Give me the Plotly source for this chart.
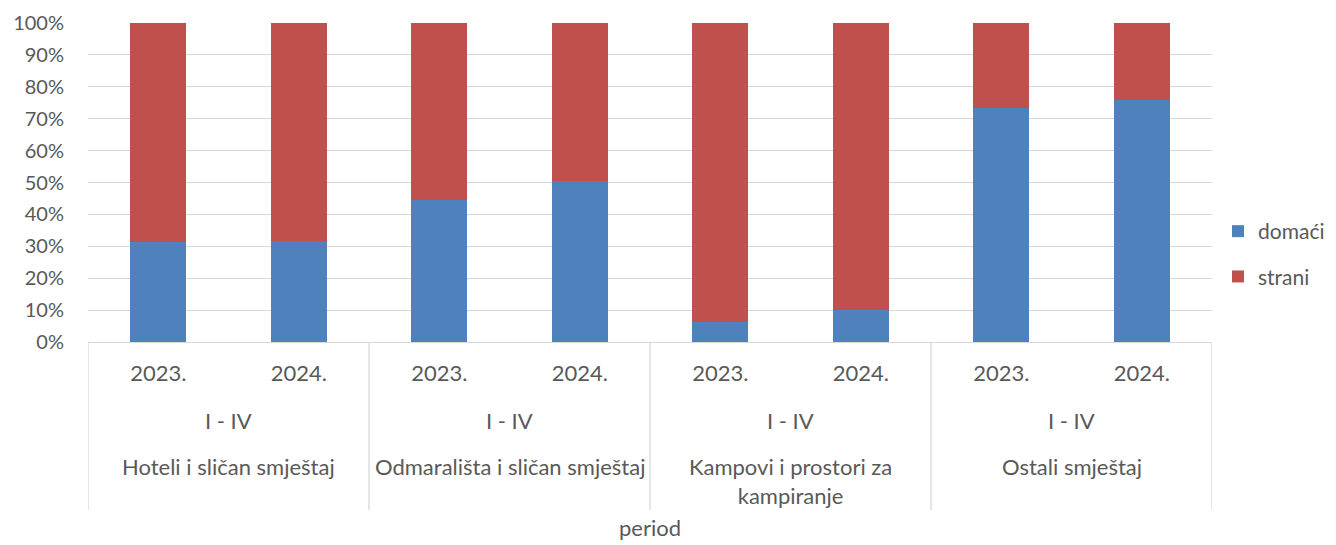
import plotly.graph_objects as go

groups = ["Hoteli i sličan smještaj", "Odmaralište i sličan smještaj", "Kampovi i prostori za kampiranje", "Ostali smještaj"]
group_labels = ["Hoteli i sličan smještaj", "Odmarališta i sličan smještaj", "Kampovi i prostori za<br>kampiranje", "Ostali smještaj"]
period_label = "I - IV"
years = ["2023.", "2024."]
domaci = [31.5, 31.8, 44.6, 50.4, 6.4, 9.9, 73.2, 76.0]
strani = [round(100 - v, 1) for v in domaci]

x_cats = [f"{g} {y}" for g in groups for y in years]
x_text = [y for g in groups for y in years]

FONT = "Lato"
TXT = "#595959"
GRID = "#D9D9D9"

# page has an 8px body margin; work in page pixels and convert
OFF = 8
W, H = 1336, 545
L, R, T, B = 88 - OFF, 1212 - OFF, 23 - OFF, 342 - OFF
ph = B - T


def py(pix):
    return (B - (pix - OFF)) / ph


def px(pix):
    return ((pix - OFF) - L) / (R - L)


fig = go.Figure()
fig.add_trace(go.Bar(x=x_cats, y=domaci, name="domaći", marker_color="#4F81BD",
                     marker_line_width=0, width=0.4, legendgroup="a"))
fig.add_trace(go.Bar(x=x_cats, y=strani, name="strani", marker_color="#C0504D",
                     marker_line_width=0, width=0.4, legendgroup="b"))

annotations = []
for i, lab in enumerate(group_labels):
    cx = 2 * i + 0.5
    annotations.append(dict(x=cx, xref="x", y=py(420), yref="paper", text=period_label,
                            showarrow=False, font=dict(family=FONT, size=22, color=TXT),
                            xanchor="center", yanchor="middle"))
    annotations.append(dict(x=cx, xref="x", y=py(451), yref="paper", text=lab,
                            showarrow=False, font=dict(family=FONT, size=22, color=TXT),
                            xanchor="center", yanchor="top"))
annotations.append(dict(x=0.5, xref="paper", y=py(527), yref="paper", text="period",
                        showarrow=False, font=dict(family=FONT, size=22, color=TXT),
                        xanchor="center", yanchor="middle"))

shapes = []
for k in range(len(groups) + 1):
    xv = 2 * k - 0.5
    shapes.append(dict(type="line", xref="x", yref="paper", x0=xv, x1=xv,
                       y0=0, y1=py(510), line=dict(color=GRID, width=1.3)))

fig.update_layout(
    template="none",
    barmode="stack",
    width=W, height=H,
    autosize=False,
    margin=dict(l=L, r=W - R, t=T, b=H - B, pad=0, autoexpand=False),
    paper_bgcolor="white", plot_bgcolor="white",
    font=dict(family=FONT, size=20, color=TXT),
    legend=dict(x=px(1218), y=py(254), xanchor="left", yanchor="middle",
                traceorder="grouped", tracegroupgap=15,
                font=dict(family=FONT, size=21, color=TXT), bgcolor="rgba(0,0,0,0)"),
    xaxis=dict(type="category", range=[-0.5, 7.5], tickvals=x_cats, ticktext=x_text,
               automargin=False,
               showgrid=False, showline=True, linecolor=GRID, linewidth=1.3,
               ticks="outside", ticklen=11, tickcolor="rgba(0,0,0,0)",
               tickfont=dict(family=FONT, size=22, color=TXT), fixedrange=True),
    yaxis=dict(range=[0, 100], tickvals=list(range(0, 101, 10)),
               ticktext=[f"{v}%" for v in range(0, 101, 10)],
               automargin=False,
               showgrid=True, gridcolor=GRID, gridwidth=1.3, zeroline=False,
               showline=False, ticks="outside", ticklen=19, tickcolor="rgba(0,0,0,0)",
               tickfont=dict(family=FONT, size=20, color=TXT), fixedrange=True),
    annotations=annotations,
    shapes=shapes,
)

fig.write_html("out.html")
